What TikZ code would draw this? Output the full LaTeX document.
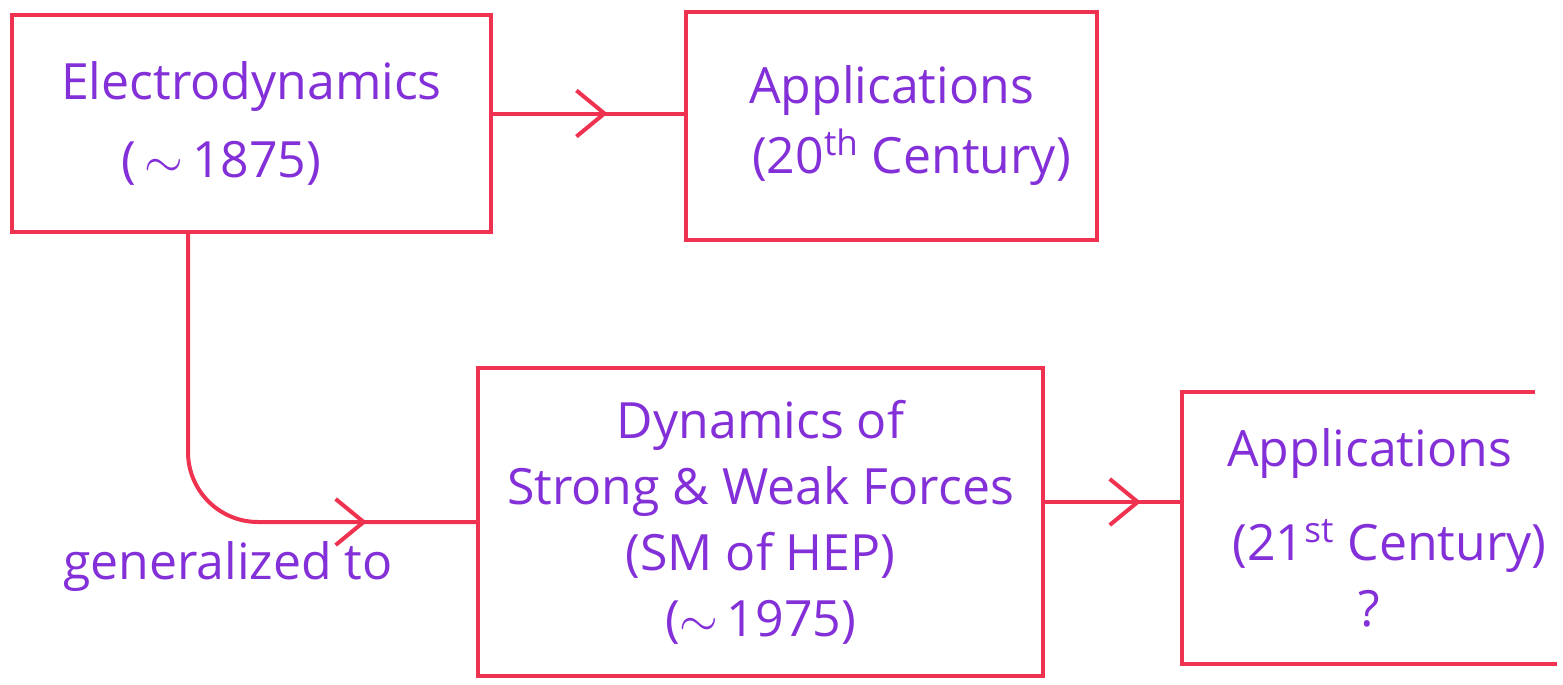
\documentclass[tikz,border=0pt]{standalone}
\usepackage{fontspec}
\setmainfont{Open Sans}
\usetikzlibrary{arrows.meta,decorations.markings}
\definecolor{boxred}{RGB}{238,50,80}
\definecolor{inkpurple}{RGB}{132,48,216}
\begin{document}
\begin{tikzpicture}[x=0.5pt,y=-0.5pt,
  box/.style={draw=boxred, line width=2pt, rectangle, inner sep=0pt, align=center,
    text=inkpurple, font=\fontsize{25}{33}\selectfont},
  openbox/.style={box, draw=none},
  conn/.style={draw=boxred, line width=2pt},
  midarrow/.style={postaction={decorate},
    decoration={markings, mark=at position #1 with
      {\arrow[boxred]{Straight Barb[length=14pt,width=23pt,line width=2pt]}}}},
  lbl/.style={text=inkpurple, font=\fontsize{25}{33}\selectfont, inner sep=0pt}
]
\fill[white] (0,0) rectangle (1563,685);
\useasboundingbox (0,0) rectangle (1563,685);

\node[box, minimum width=239.5pt, minimum height=108.5pt] (e) at (251.5,123.5)
  {Electrodynamics\\[6pt]\hspace*{-30pt}(\,$\sim$\,1875)};
\node[box, minimum width=205.5pt, minimum height=114pt] (a20) at (891.5,126)
  {Applications\\[2pt]\hspace*{20pt}(20\textsuperscript{th} Century)};
\node[box, minimum width=282.5pt, minimum height=154pt] (d) at (760.5,522)
  {Dynamics of\\Strong \& Weak Forces\\(SM of HEP)\\($\sim$\,1975)};
\node[openbox, minimum width=185.5pt, minimum height=134pt] (a21) at (1369.5,528)
  {Applications\\[14pt]\hspace*{20pt}(21\textsuperscript{st} Century)\\?};
\draw[conn] ([xshift=-11pt]a21.north east) -- (a21.north west) -- (a21.south west) -- (a21.south east);

\draw[conn, midarrow=0.60] ([yshift=5pt]e.east) -- ([yshift=5pt]e.east -| a20.west);
\draw[conn, midarrow=0.70] ([yshift=10pt]d.east) -- ([yshift=10pt]d.east -| a21.west);
\draw[conn, rounded corners=35pt, midarrow=0.80] ([xshift=89pt]e.south west) |- (d.west);

\node[lbl] (gen) at (228,567) {generalized to};
\end{tikzpicture}
\end{document}
